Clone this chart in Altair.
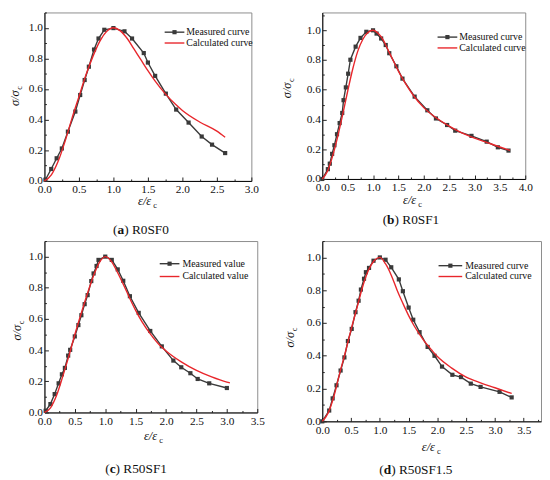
import altair as alt
import pandas as pd

FONT = "Liberation Serif"

# ---------------- data ----------------
a_meas_x = [0.014, 0.098, 0.177, 0.252, 0.34, 0.448, 0.518, 0.583, 0.644, 0.719, 0.784, 0.868, 1.0,
            1.16, 1.27, 1.44, 1.50, 1.605, 1.76, 1.91, 2.09, 2.28, 2.43, 2.62]
a_meas_y = [0.008, 0.078, 0.148, 0.212, 0.322, 0.453, 0.561, 0.659, 0.746, 0.858, 0.930, 0.987, 0.998,
            0.977, 0.93, 0.835, 0.773, 0.686, 0.57, 0.466, 0.381, 0.29, 0.237, 0.182]
a_calc_x = [0, 0.1, 0.2, 0.3, 0.4, 0.5, 0.6, 0.7, 0.8, 0.9, 1.0, 1.1, 1.2, 1.3, 1.4, 1.5, 1.6, 1.75,
            1.9, 2.0, 2.25, 2.5, 2.62]
a_calc_y = [0, 0.04, 0.13, 0.26, 0.41, 0.55, 0.69, 0.81, 0.91, 0.975, 1.0, 0.98, 0.93, 0.86, 0.79,
            0.72, 0.655, 0.57, 0.5, 0.46, 0.385, 0.325, 0.285]

b_meas_x = [0.0, 0.11, 0.148, 0.194, 0.239, 0.29, 0.342, 0.393, 0.419, 0.464, 0.51, 0.554, 0.657, 0.753,
            0.868, 1.0, 1.07, 1.16, 1.25, 1.32, 1.46, 1.58, 1.82, 2.07, 2.24, 2.46, 2.62, 2.94, 3.24,
            3.46, 3.67]
b_meas_y = [0.0, 0.066, 0.103, 0.169, 0.227, 0.301, 0.376, 0.444, 0.53, 0.616, 0.708, 0.802, 0.89, 0.949,
            0.99, 1.0, 0.978, 0.945, 0.901, 0.846, 0.758, 0.675, 0.554, 0.462, 0.407, 0.363, 0.325, 0.29,
            0.251, 0.213, 0.191]
b_calc_x = [0, 0.1, 0.2, 0.3, 0.4, 0.5, 0.6, 0.7, 0.8, 0.9, 1.0, 1.1, 1.2, 1.3, 1.4, 1.5, 1.6, 1.8, 2.0,
            2.25, 2.5, 2.75, 3.0, 3.25, 3.5, 3.7]
b_calc_y = [0, 0.05, 0.15, 0.28, 0.43, 0.59, 0.74, 0.86, 0.94, 0.985, 1.0, 0.98, 0.935, 0.865, 0.795,
            0.725, 0.665, 0.56, 0.48, 0.41, 0.355, 0.31, 0.275, 0.245, 0.215, 0.192]

c_meas_x = [0.02, 0.098, 0.168, 0.233, 0.287, 0.336, 0.39, 0.423, 0.499, 0.558, 0.607, 0.661, 0.71, 0.77,
            0.808, 0.857, 0.889, 1.0, 1.107, 1.205, 1.296, 1.405, 1.55, 1.74, 1.93, 2.12, 2.25, 2.40,
            2.52, 2.71, 3.0]
c_meas_y = [0.011, 0.054, 0.118, 0.187, 0.245, 0.286, 0.365, 0.402, 0.488, 0.561, 0.624, 0.695, 0.753,
            0.843, 0.892, 0.94, 0.979, 1.0, 0.979, 0.918, 0.845, 0.746, 0.639, 0.523, 0.424, 0.333,
            0.29, 0.252, 0.215, 0.187, 0.157]
c_calc_x = [0, 0.1, 0.2, 0.3, 0.4, 0.5, 0.6, 0.7, 0.8, 0.9, 1.0, 1.1, 1.2, 1.3, 1.4, 1.5, 1.6, 1.75,
            1.9, 2.0, 2.25, 2.5, 2.75, 3.0, 3.05]
c_calc_y = [0, 0.03, 0.11, 0.23, 0.36, 0.5, 0.63, 0.755, 0.87, 0.96, 1.0, 0.97, 0.9, 0.82, 0.735, 0.655,
            0.585, 0.5, 0.43, 0.395, 0.325, 0.27, 0.228, 0.195, 0.19]

d_meas_x = [0.0, 0.12, 0.18, 0.247, 0.318, 0.384, 0.445, 0.511, 0.577, 0.631, 0.671, 0.725, 0.758, 0.812,
            0.89, 1.0, 1.099, 1.198, 1.33, 1.40, 1.50, 1.58, 1.69, 1.83, 1.95, 2.08, 2.26, 2.41, 2.58,
            2.75, 3.08, 3.29]
d_meas_y = [0.0, 0.066, 0.14, 0.22, 0.31, 0.39, 0.49, 0.564, 0.666, 0.736, 0.804, 0.87, 0.91, 0.936,
            0.98, 1.0, 0.986, 0.94, 0.866, 0.794, 0.694, 0.62, 0.544, 0.454, 0.40, 0.334, 0.284, 0.27,
            0.23, 0.21, 0.18, 0.146]
d_calc_x = [0, 0.1, 0.2, 0.3, 0.4, 0.5, 0.6, 0.7, 0.8, 0.9, 1.0, 1.1, 1.2, 1.3, 1.4, 1.5, 1.6, 1.75,
            1.9, 2.0, 2.25, 2.5, 2.75, 3.0, 3.29]
d_calc_y = [0, 0.05, 0.15, 0.29, 0.42, 0.56, 0.69, 0.82, 0.92, 0.98, 1.0, 0.96, 0.89, 0.8, 0.72, 0.645,
            0.58, 0.5, 0.435, 0.395, 0.325, 0.27, 0.235, 0.205, 0.17]

x_ticks_a = [0.0, 0.5, 1.0, 1.5, 2.0, 2.5, 3.0]
x_ticks_b = [0.0, 0.5, 1.0, 1.5, 2.0, 2.5, 3.0, 3.5, 4.0]
x_ticks_c = [0.0, 0.5, 1.0, 1.5, 2.0, 2.5, 3.0, 3.5]
x_ticks_d = [0.0, 0.5, 1.0, 1.5, 2.0, 2.5, 3.0, 3.5]
y_ticks = [0.0, 0.2, 0.4, 0.6, 0.8, 1.0]

legend_measured = ["Measured curve", "Measured curve", "Measured value", "Measured curve"]
legend_calculated = ["Calculated curve", "Calculated curve", "Calculated value", "Calculated curve"]
cap_letters = ["a", "b", "c", "d"]
cap_names = ["R0SF0", "R0SF1", "R50SF1", "R50SF1.5"]

# ---------------- styling helpers ----------------
BLACK = "#3a3a3a"
RED = "#e8262b"
TW = {"(": 0.333, ")": 0.333, " ": 0.25, "R": 0.667, "S": 0.556, "F": 0.556, "0": 0.5, "1": 0.5,
      "5": 0.5, ".": 0.25}
BW = {"a": 0.5, "b": 0.556, "c": 0.444, "d": 0.556}
one = pd.DataFrame({"k": [0]})


def minor(ticks, top):
    vals = [(p + q) / 2 for p, q in zip(ticks, ticks[1:])]
    step = ticks[1] - ticks[0]
    v = ticks[-1] + step / 2
    while v <= top + 1e-9:
        vals.append(v)
        v += step
    return vals


def txt(x, y, s, size=12, align="left", angle=0, dx=0, dy=0, weight="normal", style="normal",
        baseline="alphabetic"):
    return alt.Chart(one).mark_text(
        align=align, baseline=baseline, font=FONT, fontSize=size, angle=angle, dx=dx, dy=dy,
        fontWeight=weight, fontStyle=style, color="#111"
    ).encode(x=alt.value(x), y=alt.value(y), text=alt.value(s))


def panel(i, mx, my, cx, cy, xmax, ymax, W, H, xticks, leg, ytit, xtit, cap):
    meas = pd.DataFrame({"x": mx, "y": my})
    calc = pd.DataFrame({"x": cx, "y": cy})
    xs = alt.Scale(domain=[0, xmax], nice=False, zero=True)
    ys = alt.Scale(domain=[0, ymax], nice=False, zero=True)
    lab = dict(labelFont=FONT, labelFontSize=11.5, labelColor="#111", grid=False, title=None)
    ax_x = alt.Axis(orient="bottom", values=xticks, format=".1f", ticks=False, domainColor="#000",
                    domainWidth=1, labelPadding=3, labelFlush=False, labelOverlap=False, **lab)
    ax_y = alt.Axis(orient="left", values=y_ticks, format=".1f", ticks=False, domainColor="#000",
                    domainWidth=1, labelPadding=2, labelOverlap=False, **lab)
    inx = dict(labels=False, domain=False, ticks=True, tickColor="#222", tickWidth=1, grid=False,
               title=None)
    ax_x_maj = alt.Axis(orient="top", offset=-H, values=xticks, tickSize=4, **inx)
    ax_x_min = alt.Axis(orient="top", offset=-H, values=minor(xticks, xmax), tickSize=2, **inx)
    ax_y_maj = alt.Axis(orient="right", offset=-W, values=y_ticks, tickSize=4, **inx)
    ax_y_min = alt.Axis(orient="right", offset=-W, values=minor(y_ticks, ymax), tickSize=2, **inx)

    line_m = alt.Chart(meas).mark_line(color=BLACK, strokeWidth=1.4).encode(
        x=alt.X("x:Q", scale=xs, axis=ax_x), y=alt.Y("y:Q", scale=ys, axis=ax_y))
    pts_m = alt.Chart(meas).mark_square(size=18, color=BLACK, opacity=1).encode(
        x=alt.X("x:Q", scale=xs, axis=ax_x_maj), y=alt.Y("y:Q", scale=ys, axis=ax_y_maj))
    line_c = alt.Chart(calc).mark_line(color=RED, strokeWidth=1.4, interpolate="monotone").encode(
        x=alt.X("x:Q", scale=xs, axis=ax_x_min), y=alt.Y("y:Q", scale=ys, axis=ax_y_min))

    # legend
    lx0, lx1, tx, r1, r2 = leg
    lg = [
        alt.Chart(one).mark_rule(color=BLACK, strokeWidth=1.4).encode(
            x=alt.value(W - lx0), x2=alt.value(W - lx1), y=alt.value(r1)),
        alt.Chart(one).mark_square(size=18, color=BLACK, opacity=1).encode(
            x=alt.value(W - (lx0 + lx1) / 2), y=alt.value(r1)),
        alt.Chart(one).mark_rule(color=RED, strokeWidth=1.4).encode(
            x=alt.value(W - lx0), x2=alt.value(W - lx1), y=alt.value(r2)),
        txt(W - tx, r1, legend_measured[i], size=10, baseline="middle"),
        txt(W - tx, r2, legend_calculated[i], size=10, baseline="middle"),
    ]

    # axis titles
    yx, yy = ytit
    xx, xy = xtit
    titles = [
        txt(yx, yy, "σ/σ", size=12.5, angle=270, dx=-9, style="italic"),
        txt(yx, yy, "c", size=8.5, angle=270, dx=7.5, dy=3),
        txt(xx, xy, "ε/ε", size=12.5, dx=-9, style="italic"),
        txt(xx, xy, "c", size=8.5, dx=6.5, dy=3),
    ]

    # caption "(a) R0SF0" with bold letter
    ccx, ccy = cap
    fs = 13.5
    letter = cap_letters[i]
    rest = ") " + cap_names[i]
    total = (TW["("] + BW[letter] + sum(TW.get(ch, 0.5) for ch in rest)) * fs
    sx = ccx - total / 2
    caps = [
        txt(sx, ccy, "(", size=fs, baseline="middle"),
        txt(sx + TW["("] * fs, ccy, letter, size=fs, weight="bold", baseline="middle"),
        txt(sx + (TW["("] + BW[letter]) * fs, ccy, rest, size=fs, baseline="middle"),
    ]

    return alt.layer(line_m, pts_m, line_c, *lg, *titles, *caps).resolve_axis(
        x="independent", y="independent").properties(width=W, height=H)


Wa, Ha = 210, 171
Wb, Hb = 206, 169
Wc, Hc = 216, 174
Wd, Hd = 222, 183

pa = panel(0, a_meas_x, a_meas_y, a_calc_x, a_calc_y, 3.0, 1.1, Wa, Ha, x_ticks_a,
           (88, 68, 66, 20, 31), (-26, 86), (104, Ha + 24), (98, Ha + 50))
pb = panel(1, b_meas_x, b_meas_y, b_calc_x, b_calc_y, 4.0, 1.12, Wb, Hb, x_ticks_b,
           (89, 69, 67, 25, 36), (-32, 78), (91, Hb + 25), (90, Hb + 42))
pc = panel(2, c_meas_x, c_meas_y, c_calc_x, c_calc_y, 3.5, 1.1, Wc, Hc, x_ticks_c,
           (99, 79, 76, 23, 36), (-24, 92), (110, Hc + 28), (93, Hc + 57))
pd_ = panel(3, d_meas_x, d_meas_y, d_calc_x, d_calc_y, 3.8, 1.1, Wd, Hd, x_ticks_d,
            (104, 80, 77, 25, 36), (-29, 99), (110, Hd + 30), (95, Hd + 49))

chart = alt.concat(pa, pb, pc, pd_, columns=2, bounds="flush",
                   spacing={"row": 61, "column": 66}).properties(
    padding={"left": 0, "top": 0, "right": 0, "bottom": 0}
).configure_view(stroke="#8c8c8c", strokeWidth=1)

chart.save("out.html", embed_options={"renderer": "svg", "actions": False})
